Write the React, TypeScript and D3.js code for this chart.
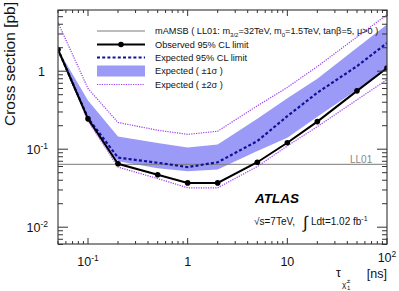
import React from 'react';
import * as d3 from 'd3';

// chargino lifetime [ns]
const lifetimes = [0.05, 0.1, 0.2, 0.5, 1, 2, 5, 10, 20, 50, 100];
const observed = [1.9, 0.245, 0.065, 0.047, 0.037, 0.037, 0.068, 0.121, 0.226, 0.56, 1.1];
const expected = [1.9, 0.25, 0.078, 0.067, 0.059, 0.068, 0.127, 0.265, 0.53, 1.16, 2.3];
const plus1 = [1.9, 0.42, 0.145, 0.12, 0.105, 0.115, 0.245, 0.45, 0.8, 2.0, 3.96];
const minus1 = [1.9, 0.23, 0.07, 0.057, 0.052, 0.055, 0.095, 0.14, 0.26, 0.58, 1.1];
const plus2 = [4.2, 0.6, 0.22, 0.175, 0.155, 0.17, 0.36, 0.62, 1.15, 2.75, 5.3];
const minus2 = [1.9, 0.23, 0.059, 0.042, 0.032, 0.032, 0.06, 0.11, 0.195, 0.43, 0.78];
const ll01 = 0.064;

const xTickLabels = [
  { v: 0.1, base: '10', exp: '-1' },
  { v: 1, base: '1', exp: '' },
  { v: 10, base: '10', exp: '' },
  { v: 100, base: '10', exp: '2' },
];
const yTickLabels = [
  { v: 0.01, base: '10', exp: '-2' },
  { v: 0.1, base: '10', exp: '-1' },
  { v: 1, base: '1', exp: '' },
];

const W = 399;
const H = 291;
const L = 58, R = 387, T = 10, B = 244;
const font = 'Liberation Sans, Arial, Helvetica, sans-serif';

const BAND = '#9b9bf7';
const DASH = '#10109a';
const DOT = '#9a3cf0';

function logTicks(lo: number, hi: number) {
  const out: { v: number; major: boolean }[] = [];
  for (let e = -4; e <= 3; e++) {
    for (let k = 1; k <= 9; k++) {
      const v = k * Math.pow(10, e);
      if (v >= lo * 0.999 && v <= hi * 1.001) out.push({ v, major: k === 1 });
    }
  }
  return out;
}

const App: React.FC = () => {
  const x = d3.scaleLog().domain([0.05, 100]).range([L, R]);
  const y = d3.scaleLog().domain([0.006, 6]).range([B + 0.5, T + 0.5]);

  const pts = (vals: number[]) => lifetimes.map((t, i) => [t, vals[i]] as [number, number]);
  const line = d3.line<[number, number]>().x(d => x(d[0])).y(d => y(d[1]));
  const area = d3.area<number>()
    .x((_, i) => x(lifetimes[i]))
    .y0((_, i) => y(minus1[i]))
    .y1((_, i) => y(plus1[i]));

  const xt = logTicks(0.05, 100);
  const yt = logTicks(0.006, 6);

  const legendRows = [31, 44.5, 57.5, 71, 84.5];
  const lx0 = 97, lx1 = 145, tx = 155;

  return (
    <svg width={W} height={H} style={{ position: 'absolute', left: 0, top: 0, background: '#fff' }} fontFamily={font}>
      <defs>
        <clipPath id="plot">
          <rect x={L} y={T} width={R - L} height={B - T} />
        </clipPath>
      </defs>

      <g clipPath="url(#plot)">
        <path d={area(lifetimes.map((_, i) => i)) || ''} fill={BAND} />
        <path d={line(pts(plus2)) || ''} fill="none" stroke={DOT} strokeWidth={1.2} strokeDasharray="1.2,1.2" />
        <path d={line(pts(minus2)) || ''} fill="none" stroke={DOT} strokeWidth={1.2} strokeDasharray="1.2,1.2" />
        <line x1={L} x2={R} y1={y(ll01)} y2={y(ll01)} stroke="#7a7a7a" strokeWidth={1} />
        <path d={line(pts(expected)) || ''} fill="none" stroke={DASH} strokeWidth={2.2} strokeDasharray="3,2.2" />
        <path d={line(pts(observed)) || ''} fill="none" stroke="#000" strokeWidth={2} />
        {lifetimes.map((t, i) => (
          <circle key={i} cx={x(t)} cy={y(observed[i])} r={2.8} fill="#000" />
        ))}
      </g>

      {/* frame */}
      <rect x={L} y={T} width={R - L} height={B - T} fill="none" stroke="#444" strokeWidth={1.2} />

      {/* x ticks */}
      {xt.map((d, i) => {
        const px = x(d.v);
        const len = d.major ? 6 : 3;
        return (
          <g key={'xt' + i} stroke="#333" strokeWidth={1}>
            <line x1={px} x2={px} y1={B} y2={B - len} />
            <line x1={px} x2={px} y1={T} y2={T + len} />
          </g>
        );
      })}
      {/* y ticks */}
      {yt.map((d, i) => {
        const py = y(d.v);
        const len = d.major ? 10 : 5;
        return (
          <g key={'yt' + i} stroke="#333" strokeWidth={1}>
            <line x1={L} x2={L + len} y1={py} y2={py} />
            <line x1={R} x2={R - len} y1={py} y2={py} />
          </g>
        );
      })}

      {/* tick labels */}
      {xTickLabels.map((d, i) => (
        <text key={'xl' + i} x={x(d.v)} y={d.exp === '2' ? 262 : 266} fontSize={12.5} textAnchor="middle" fill="#111">
          {d.base}
          {d.exp && <tspan dy={-5} fontSize={8.5}>{d.exp}</tspan>}
        </text>
      ))}
      {yTickLabels.map((d, i) => (
        <text key={'yl' + i} x={d.exp ? 48 : 45} y={y(d.v) + 5} fontSize={12.5} textAnchor="end" fill="#111">
          {d.base}
          {d.exp && <tspan dy={-5} fontSize={8.5}>{d.exp}</tspan>}
        </text>
      ))}

      {/* axis titles */}
      <text transform="translate(14.5,2) rotate(-90)" fontSize={15.5} textAnchor="end" fill="#111">
        Cross section [pb]
      </text>
      <text x={336} y={277} fontSize={12.5} fill="#111">τ</text>
      <text x={342} y={287} fontSize={8} fill="#111">χ̃</text>
      <text x={347} y={283} fontSize={6} fill="#111">±</text>
      <text x={347} y={290} fontSize={6} fill="#111">1</text>
      <text x={387} y={278} fontSize={12.5} textAnchor="end" fill="#111">[ns]</text>

      {/* legend */}
      <line x1={lx0} x2={lx1} y1={legendRows[0]} y2={legendRows[0]} stroke="#7a7a7a" strokeWidth={1} />
      <line x1={lx0} x2={lx1} y1={legendRows[1]} y2={legendRows[1]} stroke="#000" strokeWidth={2} />
      <circle cx={(lx0 + lx1) / 2} cy={legendRows[1]} r={2.8} fill="#000" />
      <line x1={lx0} x2={lx1} y1={legendRows[2]} y2={legendRows[2]} stroke={DASH} strokeWidth={2.2} strokeDasharray="3,2.2" />
      <rect x={lx0} y={legendRows[3] - 5.5} width={lx1 - lx0} height={11} fill={BAND} />
      <line x1={lx0} x2={lx1} y1={legendRows[4]} y2={legendRows[4]} stroke={DOT} strokeWidth={1.2} strokeDasharray="1.2,1.2" />

      <g fontSize={9.2} fill="#111">
        <text x={tx} y={legendRows[0] + 3}>
          mAMSB ( LL01: m<tspan dy={3} fontSize={6}>3/2</tspan>
          <tspan dy={-3}>=32TeV, m</tspan><tspan dy={3} fontSize={6}>0</tspan>
          <tspan dy={-3}>=1.5TeV, tanβ=5, μ&gt;0 )</tspan>
        </text>
        <text x={tx} y={legendRows[1] + 3}>Observed 95% CL limit</text>
        <text x={tx} y={legendRows[2] + 3}>Expected 95% CL limit</text>
        <text x={tx} y={legendRows[3] + 3}>Expected ( ±1σ )</text>
        <text x={tx} y={legendRows[4] + 3}>Expected ( ±2σ )</text>
      </g>

      {/* LL01 label */}
      <text x={350} y={163} fontSize={10} fill="#888">LL01</text>

      {/* ATLAS label */}
      <text x={255} y={203} fontSize={13.5} fontWeight="bold" fontStyle="italic" fill="#000">ATLAS</text>
      <text x={254} y={225} fontSize={10} fill="#111">
        √s=7TeV,
      </text>
      <text x={303} y={228} fontSize={17} fill="#111">∫</text>
      <text x={311} y={225} fontSize={10} fill="#111">
        Ldt=1.02 fb<tspan dy={-4} fontSize={7}>-1</tspan>
      </text>
    </svg>
  );
};

export default App;
